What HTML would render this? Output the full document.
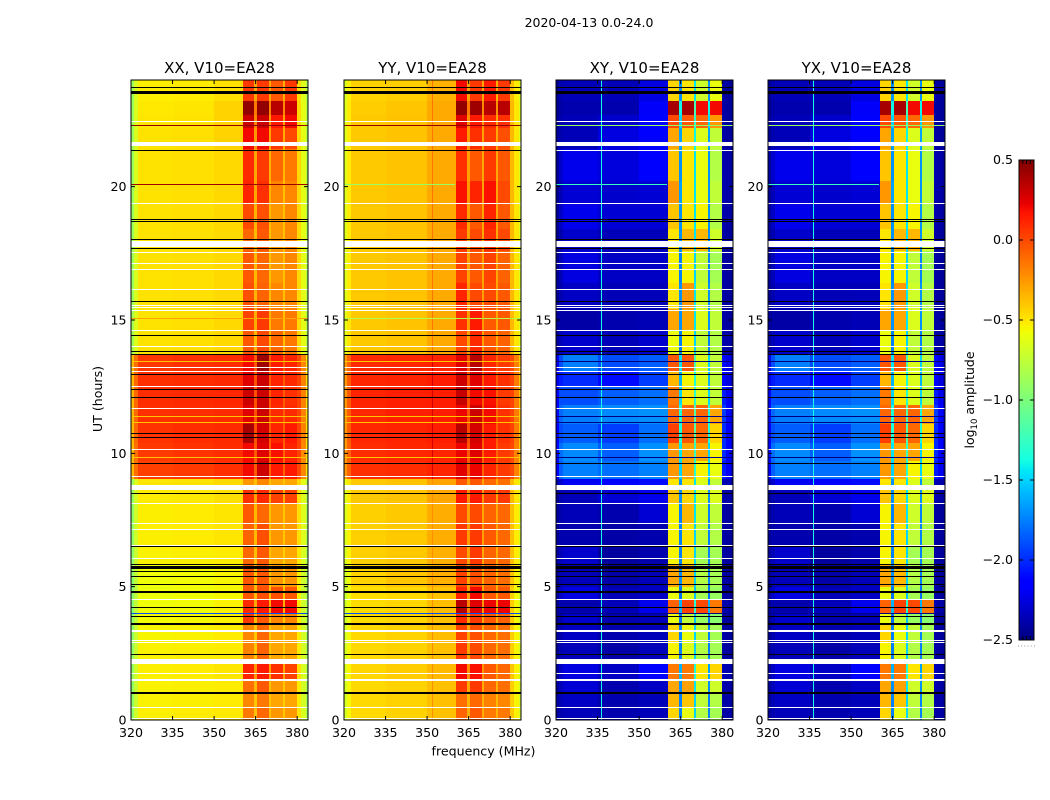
<!DOCTYPE html>
<html><head><meta charset="utf-8"><title>2020-04-13 0.0-24.0</title>
<style>
html,body{margin:0;padding:0;background:#fff;width:1050px;height:800px;overflow:hidden}
svg{display:block}
text{font-family:"DejaVu Sans","Liberation Sans",sans-serif;fill:#000}
</style></head>
<body>
<svg id="fig" xmlns="http://www.w3.org/2000/svg" width="1050" height="800" viewBox="0 0 1050 800">
<defs><linearGradient id="jetGrad" x1="0" y1="1" x2="0" y2="0"></linearGradient></defs>
<text x="589" y="27" text-anchor="middle" font-size="12.5">2020-04-13 0.0-24.0</text>
<text x="483.5" y="755.5" text-anchor="middle" font-size="12.6">frequency (MHz)</text>
<text transform="translate(102,399) rotate(-90)" text-anchor="middle" font-size="12.6">UT (hours)</text>
<text transform="translate(974,400) rotate(-90)" text-anchor="middle" font-size="12.5">log<tspan font-size="8.5" dy="3">10</tspan><tspan dy="-3"> amplitude</tspan></text>
<g id="panels"></g>
<g id="cbar"></g>
</svg>
<script>
// Frequency band edges (MHz) and time block edges (hours)
const freqEdges = [320,321,322.5,335,350,360.4,364.4,365.5,369.8,370.6,374.9,375.6,379.9,381.5,383,383.9];
const hourEdges = [0,.5,1,1.5,2.1,2.9,3.6,4,4.5,5,5.8,6.5,7.4,8.1,8.7,9.05,9.7,10.4,11.1,11.8,12.5,13.1,13.7,14.6,15.4,16.4,17.6,18.4,19.4,20.2,21.4,22.2,22.7,23.2,24];
const xTicks = [320,335,350,365,380];
const yTicks = [0,5,10,15,20];
const cbTicks = [0.5,0,-0.5,-1,-1.5,-2,-2.5];
const panelTitles = ["XX, V10=EA28","YY, V10=EA28","XY, V10=EA28","YX, V10=EA28"];
// log10 amplitude x 100, rows from 0 h upward, one column per frequency band
const xx = [
[-92,-70,-53,-52,-51,-15,-38,-10,-38,-25,-40,-25,-50,-66,-85],
[-92,-72,-54,-53,-52,-20,-40,-15,-40,-30,-42,-30,-52,-68,-86],
[-92,-72,-54,-53,-52,-12,-36,-5,-38,-25,-40,-25,-52,-68,-86],
[-90,-70,-53,-52,-50,12,-25,15,-28,8,-30,2,-48,-66,-84],
[-92,-72,-54,-53,-52,-18,-40,-8,-40,-30,-42,-30,-52,-68,-86],
[-92,-72,-55,-54,-52,-20,-40,-10,-40,-30,-42,-30,-52,-68,-86],
[-94,-74,-57,-56,-54,5,-36,-5,-38,-20,-40,-20,-52,-70,-88],
[-95,-75,-58,-57,-54,10,-30,15,-32,20,-34,20,-52,-70,-88],
[-95,-76,-59,-58,-56,-5,-36,-2,-38,-2,-40,-5,-54,-72,-90],
[-94,-75,-58,-57,-55,-5,-38,-5,-38,-25,-42,-25,-54,-70,-88],
[-92,-72,-54,-53,-52,-10,-38,-5,-38,-30,-42,-30,-50,-66,-85],
[-92,-70,-53,-52,-50,-8,-36,-2,-38,-25,-40,-25,-48,-64,-84],
[-92,-70,-53,-52,-50,-5,-36,-10,-38,-25,-40,-25,-48,-64,-84],
[-90,-68,-52,-51,-48,8,-28,10,-30,2,-32,2,-48,-64,-84],
[-88,-66,-50,-49,-46,-25,-38,-20,-38,-30,-40,-30,-46,-62,-80],
[-35,-12,3,5,8,20,-5,30,-8,15,-8,15,0,-20,-50],
[-35,-12,5,7,9,20,-5,25,-8,18,-8,12,2,-20,-50],
[-35,-10,7,9,10,40,-2,28,-5,12,-6,15,2,-18,-48],
[-35,-10,8,9,10,25,-2,30,-5,10,-6,10,2,-18,-48],
[-35,-10,9,10,11,30,-2,30,-5,12,-6,8,2,-18,-48],
[-35,-10,8,9,10,25,-2,30,-5,12,-6,10,2,-18,-48],
[-36,-12,6,8,9,20,-4,42,-5,15,-6,12,0,-20,-50],
[-85,-65,-49,-48,-46,-5,-35,0,-35,-10,-38,-15,-46,-62,-82],
[-85,-65,-49,-48,-46,2,-32,5,-34,-15,-38,-15,-46,-62,-82],
[-88,-66,-49,-48,-46,-2,-34,-8,-36,-20,-38,-20,-46,-62,-82],
[-88,-66,-49,-48,-46,-5,-36,-10,-38,-25,-38,-20,-46,-62,-82],
[-88,-66,-49,-48,-46,-10,-36,-5,-38,-25,-38,-20,-46,-62,-82],
[-88,-66,-49,-48,-46,0,-34,-2,-36,-25,-38,-20,-46,-62,-82],
[-88,-66,-49,-48,-46,12,-30,8,-34,-20,-38,-20,-46,-62,-82],
[-88,-66,-49,-48,-46,10,-30,5,-34,-10,-36,-15,-46,-62,-82],
[-88,-66,-49,-48,-44,20,-25,20,-30,5,-32,0,-46,-62,-82],
[-88,-66,-50,-49,-44,30,-20,30,-25,15,-28,20,-46,-62,-82],
[-88,-66,-51,-50,-44,45,-15,45,-18,35,-20,30,-46,-62,-82],
[-88,-66,-53,-52,-48,5,-30,5,-30,-5,-32,5,-48,-64,-84]];
const yy = [
[-68,-56,-46,-44,-38,-8,-32,-5,-32,-15,-34,-15,-40,-54,-68],
[-68,-56,-46,-44,-38,-12,-34,-10,-34,-18,-36,-20,-42,-55,-68],
[-68,-56,-46,-44,-38,5,-30,5,-32,-10,-34,-12,-42,-55,-68],
[-66,-55,-45,-42,-36,20,-22,18,-25,-5,-28,-10,-40,-54,-68],
[-68,-56,-46,-44,-38,5,-30,0,-32,-10,-34,-12,-42,-55,-68],
[-68,-56,-46,-44,-37,2,-30,-2,-32,-10,-34,-12,-42,-55,-68],
[-70,-58,-47,-45,-38,10,-28,5,-30,-5,-32,-8,-42,-56,-70],
[-70,-58,-47,-45,-37,35,-20,25,-25,22,-28,22,-42,-56,-70],
[-72,-60,-48,-46,-39,12,-28,20,-30,-5,-32,-5,-44,-58,-72],
[-70,-58,-44,-40,-33,2,-30,-2,-32,-8,-34,-12,-40,-54,-68],
[-66,-54,-43,-41,-33,0,-28,5,-30,-8,-32,-10,-38,-52,-66],
[-66,-54,-43,-41,-32,5,-26,5,-28,-5,-30,-10,-38,-52,-66],
[-66,-54,-43,-41,-32,0,-28,0,-30,-8,-30,-10,-38,-52,-66],
[-64,-52,-41,-39,-30,15,-22,15,-25,5,-28,5,-36,-50,-64],
[-62,-50,-41,-39,-29,-5,-28,-5,-28,-10,-30,-12,-36,-50,-64],
[-25,-8,8,9,12,25,-5,22,-8,12,-8,5,0,-18,-40],
[-25,-8,9,11,12,22,-5,25,-8,15,-8,5,0,-18,-40],
[-25,-6,11,12,14,35,0,28,-5,15,-6,8,2,-16,-38],
[-25,-6,11,13,14,22,-2,30,-5,20,-6,8,2,-16,-38],
[-25,-6,12,13,14,32,-2,20,-5,18,-6,5,2,-16,-38],
[-25,-6,11,12,14,30,-2,25,-5,15,-6,8,2,-16,-38],
[-26,-8,10,11,12,25,-4,35,-5,12,-6,5,0,-18,-40],
[-62,-50,-41,-39,-31,0,-28,10,-28,-5,-30,-8,-36,-50,-64],
[-62,-50,-41,-39,-31,8,-26,15,-26,-5,-30,-5,-36,-50,-64],
[-64,-52,-41,-39,-31,12,-25,0,-28,0,-30,-5,-36,-50,-64],
[-64,-52,-41,-39,-31,2,-28,-5,-30,2,-30,-8,-36,-50,-64],
[-64,-52,-41,-39,-31,5,-28,0,-30,8,-30,0,-36,-50,-64],
[-64,-52,-41,-39,-31,10,-28,-5,-30,12,-30,-5,-36,-50,-64],
[-64,-52,-41,-39,-31,18,-25,12,-28,18,-28,0,-36,-50,-64],
[-64,-52,-41,-39,-31,8,-28,-5,-30,5,-30,-5,-36,-50,-64],
[-64,-52,-41,-39,-31,15,-25,8,-28,5,-30,-2,-36,-50,-64],
[-64,-52,-41,-39,-31,25,-22,15,-25,10,-28,8,-36,-50,-64],
[-64,-52,-42,-40,-31,45,-15,42,-20,35,-22,35,-36,-50,-64],
[-66,-54,-44,-42,-34,20,-28,5,-30,15,-32,5,-38,-52,-66]];
const xy = [
[-242,-238,-235,-238,-235,-45,-175,-60,-150,-80,-175,-85,-240,-240,-245],
[-242,-236,-232,-238,-235,-35,-175,-40,-150,-75,-175,-80,-240,-240,-245],
[-242,-235,-228,-238,-232,-30,-170,-28,-145,-70,-170,-70,-238,-240,-245],
[-242,-232,-225,-232,-215,-15,-160,-15,-135,-50,-165,-45,-235,-238,-245],
[-244,-238,-235,-240,-235,-55,-175,-65,-150,-80,-175,-85,-240,-242,-245],
[-244,-238,-232,-238,-235,-45,-175,-60,-150,-75,-175,-85,-240,-242,-245],
[-244,-238,-230,-238,-235,-60,-180,-75,-155,-90,-180,-95,-240,-242,-245],
[-244,-238,-238,-235,-222,-8,-160,2,-130,0,-160,-15,-238,-240,-245],
[-242,-232,-225,-235,-232,-60,-180,-65,-155,-85,-180,-90,-240,-242,-245],
[-244,-238,-235,-240,-235,-30,-170,-35,-150,-80,-175,-85,-240,-242,-245],
[-242,-235,-230,-242,-238,-55,-175,-50,-150,-85,-175,-85,-240,-242,-245],
[-244,-238,-238,-240,-238,-55,-175,-50,-150,-75,-175,-80,-240,-242,-245],
[-244,-238,-235,-238,-228,-55,-175,-35,-145,-70,-175,-75,-240,-242,-245],
[-244,-238,-235,-228,-222,-40,-170,-45,-145,-65,-170,-65,-238,-240,-245],
[-240,-230,-220,-215,-210,-50,-170,-50,-145,-65,-170,-75,-235,-238,-243],
[-215,-185,-175,-180,-175,-25,-150,-30,-130,-55,-150,-60,-205,-220,-235],
[-210,-180,-172,-185,-170,-25,-145,-30,-125,-30,-150,-55,-200,-215,-232],
[-215,-190,-185,-195,-180,3,-135,-5,-115,-10,-135,-45,-200,-215,-232],
[-210,-182,-175,-172,-170,-10,-135,-10,-115,-10,-135,-30,-195,-212,-230],
[-215,-190,-190,-185,-180,-15,-150,-50,-130,-65,-150,-75,-205,-220,-235],
[-222,-205,-200,-210,-195,-35,-160,-55,-135,-65,-160,-75,-215,-225,-238],
[-220,-190,-175,-190,-185,-5,-145,-5,-120,-65,-150,-75,-210,-222,-236],
[-242,-235,-230,-235,-230,-60,-175,-55,-150,-75,-175,-80,-238,-240,-245],
[-244,-240,-240,-238,-236,-30,-170,-30,-145,-65,-170,-75,-240,-242,-245],
[-244,-238,-232,-236,-235,-50,-170,-25,-145,-70,-170,-80,-240,-242,-245],
[-244,-236,-225,-232,-232,-55,-175,-55,-150,-75,-175,-85,-240,-242,-245],
[-244,-238,-230,-235,-235,-50,-170,-35,-145,-35,-170,-70,-240,-242,-245],
[-242,-232,-222,-228,-228,-40,-170,-50,-145,-55,-170,-80,-238,-240,-245],
[-244,-236,-228,-230,-228,-25,-165,-50,-145,-60,-170,-75,-238,-240,-245],
[-242,-230,-222,-226,-215,-40,-170,-50,-145,-60,-170,-80,-238,-240,-245],
[-244,-238,-235,-225,-215,-30,-165,-45,-140,-65,-165,-75,-240,-242,-245],
[-244,-238,-235,-230,-215,0,-150,-5,-130,-10,-150,-25,-240,-242,-245],
[-246,-240,-238,-238,-218,40,-140,40,-120,20,-140,20,-240,-242,-245],
[-244,-238,-235,-235,-225,-45,-170,-50,-145,-70,-170,-60,-240,-242,-245]];
const yx = [
[-242,-238,-235,-238,-235,-45,-175,-60,-150,-80,-175,-85,-240,-240,-245],
[-242,-236,-232,-238,-235,-35,-175,-40,-150,-75,-175,-80,-240,-240,-245],
[-242,-235,-228,-238,-232,-30,-170,-28,-145,-70,-170,-70,-238,-240,-245],
[-242,-232,-225,-232,-215,-15,-160,-15,-135,-50,-165,-45,-235,-238,-245],
[-244,-238,-235,-240,-235,-55,-175,-65,-150,-80,-175,-85,-240,-242,-245],
[-244,-238,-232,-238,-235,-45,-175,-60,-150,-75,-175,-85,-240,-242,-245],
[-244,-238,-230,-238,-235,-60,-180,-75,-155,-90,-180,-95,-240,-242,-245],
[-244,-238,-238,-235,-222,-8,-160,2,-130,0,-160,-15,-238,-240,-245],
[-242,-232,-225,-235,-232,-60,-180,-65,-155,-85,-180,-90,-240,-242,-245],
[-244,-238,-235,-240,-235,-30,-170,-35,-150,-80,-175,-85,-240,-242,-245],
[-242,-235,-230,-242,-238,-55,-175,-50,-150,-85,-175,-85,-240,-242,-245],
[-244,-238,-238,-240,-238,-55,-175,-50,-150,-75,-175,-80,-240,-242,-245],
[-244,-238,-235,-238,-228,-55,-175,-35,-145,-70,-175,-75,-240,-242,-245],
[-244,-238,-235,-228,-222,-40,-170,-45,-145,-65,-170,-65,-238,-240,-245],
[-240,-230,-220,-215,-210,-50,-170,-50,-145,-65,-170,-75,-235,-238,-243],
[-215,-185,-175,-180,-175,-25,-150,-30,-130,-55,-150,-60,-205,-220,-235],
[-210,-180,-172,-185,-170,-25,-145,-30,-125,-30,-150,-55,-200,-215,-232],
[-215,-190,-185,-195,-180,3,-135,-5,-115,-10,-135,-45,-200,-215,-232],
[-210,-182,-175,-172,-170,-10,-135,-10,-115,-10,-135,-30,-195,-212,-230],
[-215,-190,-190,-185,-180,-15,-150,-50,-130,-65,-150,-75,-205,-220,-235],
[-222,-205,-200,-210,-195,-35,-160,-55,-135,-65,-160,-75,-215,-225,-238],
[-220,-190,-175,-190,-185,-5,-145,-5,-120,-65,-150,-75,-210,-222,-236],
[-242,-235,-230,-235,-230,-60,-175,-55,-150,-75,-175,-80,-238,-240,-245],
[-244,-240,-240,-238,-236,-30,-170,-30,-145,-65,-170,-75,-240,-242,-245],
[-244,-238,-232,-236,-235,-50,-170,-25,-145,-70,-170,-80,-240,-242,-245],
[-244,-236,-225,-232,-232,-55,-175,-55,-150,-75,-175,-85,-240,-242,-245],
[-244,-238,-230,-235,-235,-50,-170,-35,-145,-35,-170,-70,-240,-242,-245],
[-242,-232,-222,-228,-228,-40,-170,-50,-145,-55,-170,-80,-238,-240,-245],
[-244,-236,-228,-230,-228,-25,-165,-50,-145,-60,-170,-75,-238,-240,-245],
[-242,-230,-222,-226,-215,-40,-170,-50,-145,-60,-170,-80,-238,-240,-245],
[-244,-238,-235,-225,-215,-30,-165,-45,-140,-65,-165,-75,-240,-242,-245],
[-244,-238,-235,-230,-215,0,-150,-5,-130,-10,-150,-25,-240,-242,-245],
[-246,-240,-238,-238,-218,40,-140,40,-120,20,-140,20,-240,-242,-245],
[-244,-238,-235,-235,-225,-45,-170,-50,-145,-70,-170,-60,-240,-242,-245]];
// Narrow single-channel vertical streaks: centre frequency, hour span and level per panel
const channelFreqs = [336.2, 351.9, 351.9, 351.9];
const channelFrom = [0, 0, 9.05, 13.7];
const channelTo = [24, 9.05, 13.7, 24];
const channelXX = [null, null, null, null];
const channelYY = [null, -22, 28, -14];
const channelXY = [-138, null, null, null];
const channelYX = [-138, null, null, null];
// Narrow single-scan horizontal streaks: hour, upper frequency limit, level per panel
const scanHours = [13.47,11.41,11.16,9.88,22.3,20.09,20.09,4.0,15.06];
const scanStop = [383.9,383.9,383.9,383.9,383.9,360,383.9,383.9,383.9];
const scanXX = [-40,-40,-40,-40,45,null,42,-190,-30];
const scanYY = [-40,-40,-40,-40,45,-90,null,-190,-80];
const scanXY = [-250,-250,-250,-250,-90,-125,null,-250,null];
const scanYX = [-250,-250,-250,-250,-90,-125,null,-250,null];
// Flagged (blank) scans, in hours
const whiteThin = [0.09,0.48,1.75,2.91,3.01,4.53,6.09,6.58,7.15,7.4,8.12,9.14,10.15,11.69,12.51,13.08,13.23,14.04,14.61,15.36,15.47,15.57,16.15,16.9,17.13,17.54,19.37,22.48];
const whiteWide = [[1.46,1.54],[3.31,3.39],[2.1,2.29],[8.62,8.82],[17.73,17.97],[21.53,21.68]];
const blackThin = [2.46,3.91,4.23,4.8,4.85,5.1,5.4,5.6,5.78,5.86,6.51,8.5,9.63,10.6,10.75,12.11,12.4,12.96,13.71,13.85,14.43,15.7,17.69,18.03,18.7,18.78,23.73,23.6];
const blackWide = [[0.97,1.05],[3.57,3.65],[5.66,5.74],[23.46,23.54]];
const parallelOnlyBlack = [21.39];
const crossOnlyWhite = [21.39];
const colorbarEnds = [-2.5, 0.5];
const panelLefts = [131,344,556,768];
const panelData = [xx,yy,xy,yx];
const panelChannels = [channelXX,channelYY,channelXY,channelYX];
const panelScans = [scanXX,scanYY,scanXY,scanYX];

const NS = "http://www.w3.org/2000/svg";
const TOP = 80, BOTTOM = 720, PW = 177, F0 = 320, F1 = 383.9;
const yOf = h => BOTTOM - h * (BOTTOM - TOP) / 24;
function jet(t){
  t = Math.max(0, Math.min(1, t));
  const ramp = (pts) => { for (let i = 1; i < pts.length; i++) { if (t <= pts[i][0]) { const a = pts[i-1], b = pts[i]; return a[1] + (b[1]-a[1]) * (t-a[0]) / (b[0]-a[0]); } } return pts[pts.length-1][1]; };
  const r = ramp([[0,0],[.35,0],[.66,1],[.89,1],[1,.5]]);
  const g = ramp([[0,0],[.125,0],[.375,1],[.64,1],[.91,0],[1,0]]);
  const b = ramp([[0,.5],[.11,1],[.34,1],[.65,0],[1,0]]);
  return "rgb(" + Math.round(r*255) + "," + Math.round(g*255) + "," + Math.round(b*255) + ")";
}
const colorOf = v => jet((v/100 - colorbarEnds[0]) / (colorbarEnds[1] - colorbarEnds[0]));
function mk(tag, parent, attrs){
  const e = document.createElementNS(NS, tag);
  for (const k in attrs) e.setAttribute(k, attrs[k]);
  parent.appendChild(e);
  return e;
}
function hbar(g, xOf, hi, lo, fill, px, stop){
  const y0 = Math.round(yOf(hi));
  const y1 = px ? y0 + px : Math.round(yOf(lo));
  const x0 = xOf(F0), x1 = xOf(stop === undefined ? F1 : stop);
  return mk("rect", g, {x:x0, y:y0, width:x1-x0, height:y1-y0, fill:fill, "shape-rendering":"crispEdges"});
}
const panels = document.getElementById("panels");
panelData.forEach(function(matrix, p){
  const left = panelLefts[p];
  const xOf = f => left + (f - F0) * PW / (F1 - F0);
  const g = mk("g", panels, {});
  
  
  const title = mk("text", g, {x:left+PW/2, y:73, "text-anchor":"middle", "font-size":"15"});
  
  
  title.textContent = panelTitles[p];
  matrix.forEach(function(row, r){
    const y0 = Math.round(yOf(hourEdges[r+1])), y1 = Math.round(yOf(hourEdges[r]));
    row.forEach(function(v, c){
      const x0 = Math.round(xOf(freqEdges[c])), x1 = Math.round(xOf(freqEdges[c+1]));
      const cell = mk("rect", g, {x:x0, y:y0, width:x1-x0, height:y1-y0, fill:colorOf(v), "shape-rendering":"crispEdges"});
      
      
    });
  });
  channelFreqs.forEach(function(f, i){
    const v = panelChannels[p][i];
    if (v === null) return;
    const y0 = Math.round(yOf(channelTo[i])), y1 = Math.round(yOf(channelFrom[i]));
    const s = mk("rect", g, {x:Math.round(xOf(f)), y:y0, width:1, height:y1-y0, fill:colorOf(v), "shape-rendering":"crispEdges"});
    
    
  });
  scanHours.forEach(function(h, i){
    const v = panelScans[p][i];
    if (v === null) return;
    const s = hbar(g, xOf, h, h, colorOf(v), 1, scanStop[i]);
    
    
  });
  const whites = whiteThin.concat(p >= 2 ? crossOnlyWhite : []);
  whites.forEach(function(h){
    const s = hbar(g, xOf, h, h, "#fff", 1);
    
    
  });
  whiteWide.forEach(function(b){
    const s = hbar(g, xOf, b[1], b[0], "#fff");
    
    
  });
  const blacks = blackThin.concat(p < 2 ? parallelOnlyBlack : []);
  blacks.forEach(function(h){
    const s = hbar(g, xOf, h, h, "#000", 1);
    
    
  });
  blackWide.forEach(function(b){
    const s = hbar(g, xOf, b[1], b[0], "#000");
    
    
  });
  const frame = mk("rect", g, {x:left, y:TOP, width:PW, height:BOTTOM-TOP, fill:"none", stroke:"#000", "stroke-width":"1"});
  
  
  xTicks.forEach(function(t){
    const x = xOf(t);
    const a = mk("path", g, {d:"M"+x+" "+BOTTOM+"v-4M"+x+" "+TOP+"v4", stroke:"#000", fill:"none", "stroke-width":"1"});
    
    
    const l = mk("text", g, {x:x, y:737, "text-anchor":"middle", "font-size":"12.6"});
    
    
    l.textContent = t;
  });
  yTicks.forEach(function(t){
    const y = yOf(t);
    const a = mk("path", g, {d:"M"+left+" "+y+"h4M"+(left+PW)+" "+y+"h-4", stroke:"#000", fill:"none", "stroke-width":"1"});
    
    
    const l = mk("text", g, {x:left-4.5, y:y+4.5, "text-anchor":"end", "font-size":"12.6"});
    
    
    l.textContent = t;
  });
});
// Colorbar
const grad = document.getElementById("jetGrad");
[0,.11,.125,.34,.35,.375,.64,.65,.66,.89,.91,1].forEach(function(t){
  mk("stop", grad, {offset:t, "stop-color":jet(t)});
});
const cb = document.getElementById("cbar");
const CX = 1019, CW = 15, CT = 160, CB = 640;
const cbY = v => CB - (v - colorbarEnds[0]) * (CB - CT) / (colorbarEnds[1] - colorbarEnds[0]);
const ramp = mk("rect", cb, {x:CX, y:CT, width:CW, height:CB-CT, fill:"url(#jetGrad)", stroke:"#000", "stroke-width":"1"});


cbTicks.forEach(function(t){
  const y = cbY(t);
  const a = mk("path", cb, {d:"M"+CX+" "+y+"h4M"+(CX+CW)+" "+y+"h-4", stroke:"#000", fill:"none"});
  
  
  const l = mk("text", cb, {x:1013, y:y+4, "text-anchor":"end", "font-size":"12.6"});
  
  
  l.textContent = t.toFixed(1).replace("-", "\u2212");
});
[0,.25,.5,.75,1].forEach(function(f){
  const x = CX + f * CW;
  const a = mk("path", cb, {d:"M"+x+" "+CT+"v4M"+x+" "+CB+"v-4", stroke:"#000", fill:"none"});
  
  
});
[0,1,2,3,4,5].forEach(function(i){
  const d = mk("rect", cb, {x:1018 + i*3.2, y:645.5, width:1, height:1, fill:"#999"});
  
  
});
</script>
</body></html>
